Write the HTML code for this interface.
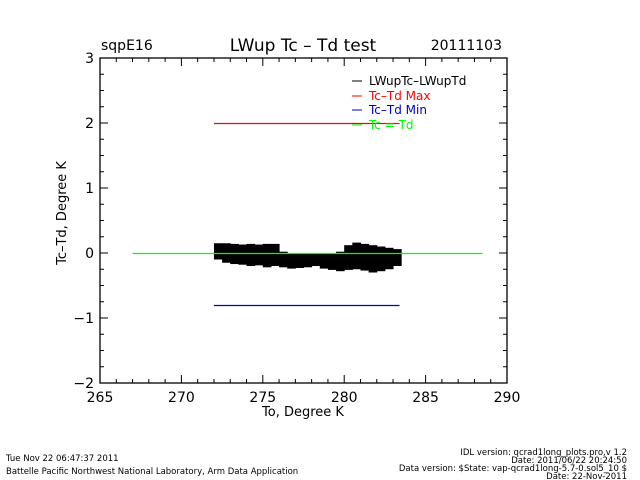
<!DOCTYPE html>
<html><head><meta charset="utf-8"><style>
body{margin:0;background:#fff;width:640px;height:480px;overflow:hidden}
svg{display:block}
text{font-family:"DejaVu Sans","Liberation Sans",sans-serif;fill:#000}
</style></head><body>
<svg id="chart" width="640" height="480" xmlns="http://www.w3.org/2000/svg">
<rect width="640" height="480" fill="#fff"/>
<g id="marks"></g>
<g id="axes"></g>
<text x="101" y="50" font-size="14">sqpE16</text>
<text x="303" y="51" font-size="17" text-anchor="middle">LWup Tc – Td test</text>
<text x="502" y="50" font-size="14" text-anchor="end">20111103</text>
<text x="303" y="416" font-size="13" text-anchor="middle">To, Degree K</text>
<text x="0" y="0" font-size="13" text-anchor="middle" transform="translate(66,213) rotate(-90)">Tc–Td, Degree K</text>
<g font-size="12">
<line x1="352" y1="81" x2="362" y2="81" stroke="#000"/><text x="369" y="85">LWupTc–LWupTd</text>
<line x1="352" y1="96" x2="362" y2="96" stroke="#f00"/><text x="369" y="100" style="fill:#f00">Tc–Td Max</text>
<line x1="352" y1="110" x2="362" y2="110" stroke="#00c"/><text x="369" y="114" style="fill:#00c">Tc–Td Min</text>
<line x1="352" y1="125" x2="362" y2="125" stroke="#0f0"/><text x="369" y="129" style="fill:#0f0">Tc = Td</text>
</g>
<g font-size="8.5">
<text x="6" y="461">Tue Nov 22 06:47:37 2011</text>
<text x="6" y="474">Battelle Pacific Northwest National Laboratory, Arm Data Application</text>
<text x="627" y="455" text-anchor="end">IDL version: qcrad1long_plots.pro,v 1.2</text>
<text x="627" y="463" text-anchor="end">Date: 2011/06/22 20:24:50</text>
<text x="627" y="471" text-anchor="end">Data version: $State: vap-qcrad1long-5.7-0.sol5_10 $</text>
<text x="627" y="479" text-anchor="end">Date: 22-Nov-2011</text>
</g>
</svg>
<script>
const binX=[272,272.5,273,273.5,274,274.5,275,275.5,276,276.5,277,277.5,278,278.5,279,279.5,280,280.5,281,281.5,282,282.5,283];
const binTop=[0.15,0.15,0.14,0.13,0.14,0.13,0.14,0.14,0.02,0.0,0.0,0.0,0.0,0.0,0.0,0.02,0.12,0.16,0.14,0.12,0.1,0.08,0.06];
const binBottom=[-0.1,-0.15,-0.17,-0.18,-0.2,-0.19,-0.22,-0.2,-0.22,-0.24,-0.23,-0.22,-0.2,-0.24,-0.26,-0.28,-0.26,-0.25,-0.27,-0.3,-0.28,-0.25,-0.2];
const maxLine={x0:272,x1:283.4,y:2};
const minLine={x0:272,x1:283.4,y:-0.8};
const eqLine={x0:267,x1:288.5,y:0};
const xTicks=[265,270,275,280,285,290];
const yTicks=[-2,-1,0,1,2,3];
const X0=100,X1=507,Y0=383,Y1=58;
const sx=v=>X0+(v-265)/(290-265)*(X1-X0);
const sy=v=>Y0-(v+2)/5*(Y0-Y1);
const NS='http://www.w3.org/2000/svg';
const marks=document.getElementById('marks'),axes=document.getElementById('axes');
function mk(tag,attrs,parent){const e=document.createElementNS(NS,tag);for(const k in attrs)e.setAttribute(k,attrs[k]);parent.appendChild(e);return e;}
binX.forEach((x,i)=>{
  const r=mk('rect',{x:sx(x),y:sy(binTop[i]),width:sx(x+0.5)-sx(x)+0.5,height:sy(binBottom[i])-sy(binTop[i]),fill:'#000'},marks);
  
  
});
[[maxLine,'#f00','max-line'],[minLine,'#00c','min-line'],[eqLine,'#0f0','equal-line']].forEach(([l,c,n])=>{
  const e=mk('line',{x1:sx(l.x0),x2:sx(l.x1),y1:sy(l.y)+0.5,y2:sy(l.y)+0.5,stroke:c,'stroke-width':1.2},marks);
  
  
});
const box=mk('rect',{x:X0,y:Y1,width:X1-X0,height:Y0-Y1,fill:'none',stroke:'#000','stroke-width':1.3},axes);


for(let v=265;v<=290;v+=1){const x=sx(v),L=(v%5==0)?8:4;
  mk('line',{x1:x,x2:x,y1:Y0,y2:Y0-L,stroke:'#000'},axes);mk('line',{x1:x,x2:x,y1:Y1,y2:Y1+L,stroke:'#000'},axes);}
for(let v=-2;v<=3.001;v+=0.25){const y=sy(v),L=(Math.abs(v-Math.round(v))<0.01)?8:4;
  mk('line',{x1:X0,x2:X0+L,y1:y,y2:y,stroke:'#000'},axes);mk('line',{x1:X1,x2:X1-L,y1:y,y2:y,stroke:'#000'},axes);}
xTicks.forEach(v=>{const t=mk('text',{x:sx(v),y:Y0+19,'font-size':14,'text-anchor':'middle'},axes);t.textContent=v;
  
  });
yTicks.forEach(v=>{const t=mk('text',{x:X0-6,y:sy(v)+5,'font-size':14,'text-anchor':'end'},axes);t.textContent=v<0?'−'+(-v):v;
  
  });
</script>
</body></html>
